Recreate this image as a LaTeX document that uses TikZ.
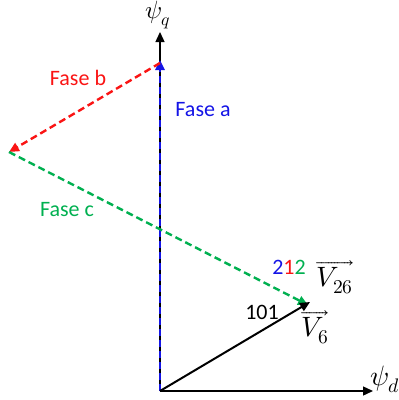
\documentclass[tikz,border=0pt]{standalone}
\usepackage{amsmath}
\usepackage{fontspec}
\usepackage{unicode-math}
\setmainfont{Carlito}
\setmathfont{Latin Modern Math}
\usepackage{tikz}
\usetikzlibrary{arrows.meta, positioning}
\definecolor{faseA}{RGB}{20,20,230}
\definecolor{faseB}{RGB}{250,20,20}
\definecolor{faseC}{RGB}{0,176,80}

\begin{document}
\begin{tikzpicture}[x=1pt, y=-1pt, >={Triangle[length=10pt, width=9pt]},
                    phase/.style={dash pattern=on 7pt off 4pt, line width=2.4pt},
                    lbl/.style={font=\fontsize{22}{25}\selectfont},
                    vec/.style={font=\fontsize{28}{32}\selectfont, inner sep=0pt}]
                    \useasboundingbox (0,0) rectangle (399,400);

                    % Axes
                    \coordinate (O) at (160, 391);
                    \coordinate (qtip) at (160, 32);
                    \coordinate (dtip) at (373, 391);
                    \draw[->, line width=1.4pt] (O) -- (qtip);
                    \draw[->, line width=1.4pt] (O) -- (dtip);
                    \node[vec, font=\fontsize{25}{28}\selectfont] (psiq) at (158, 15) {$\psi_q$};
                    \node[vec] (psid) at (385, 379) {$\psi_d$};

                    % Phase vectors
                    \coordinate (A) at (160, 60);
                    \coordinate (Bs) at (160, 63);
                    \coordinate (B) at (9, 152);
                    \coordinate (C) at (308, 305);
                    \draw[->, phase, faseA] (O) -- (A);
                    \draw[->, phase, faseB] (Bs) -- (B);
                    \draw[->, phase, faseC] (B) -- (C);

                    % Resulting vector
                    \coordinate (V) at (310, 302);
                    \draw[->, line width=2pt] (O) -- (V);

                    % Labels
                    \node[lbl, text=faseA] (la) at (203, 110) {Fase a};
                    \node[lbl, text=faseB] (lb) at (78, 78) {Fase b};
                    \node[lbl, text=faseC] (lc) at (67, 210) {Fase c};
                    \node[lbl, inner sep=0pt] (l212) at (289, 267) {\textcolor{faseA}{2}\textcolor{faseB}{1}\textcolor{faseC}{2}};
                    \node[vec] (v26) at (335, 277) {$\overrightarrow{V_{26}}$};
                    \node[lbl, inner sep=0pt] (l101) at (262, 312) {101};
                    \node[vec] (v6) at (315, 327) {$\overrightarrow{V_{6}}$};

                \end{tikzpicture}
\end{document}
